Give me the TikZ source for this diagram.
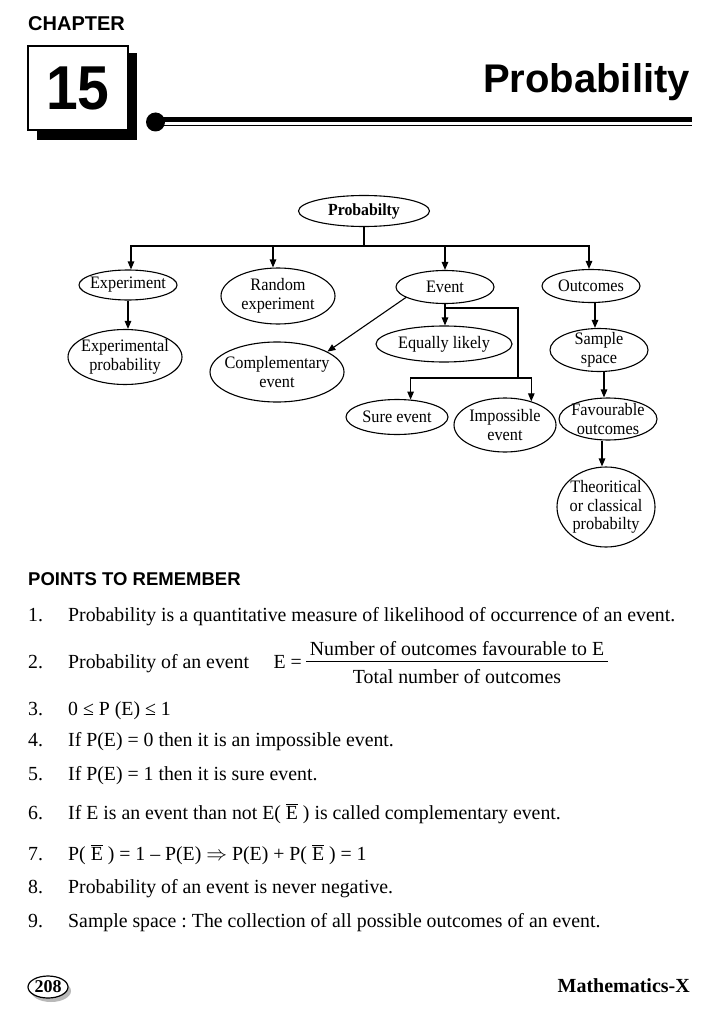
\documentclass[tikz,border=0pt]{standalone}
\usepackage{fontspec}
\setmainfont{Liberation Serif}
\newfontfamily\bodyff[FakeStretch=0.99]{Liberation Serif}
\newfontfamily\diagff[FakeStretch=0.93]{Liberation Serif}
\newfontfamily\headff{Liberation Sans}
\newfontfamily\numff[FakeStretch=0.92]{Liberation Sans}
\usetikzlibrary{shapes.geometric,arrows.meta}
\frenchspacing
\newcommand\bodyfont{\fontsize{20}{24}\selectfont\bodyff}
\newcommand\diagfont{\fontsize{17.5}{18.5}\selectfont\diagff}
\newcommand\Ebar{$\overline{\hbox{E}}$}
\tikzset{
  ell/.style={draw, ellipse, line width=1.1pt, inner sep=-40pt, align=center, font=\diagfont},
  conn/.style={line width=1.1pt},
  arr/.style={line width=1.1pt, -{Triangle[length=8pt,width=6.5pt]}},
  txt/.style={anchor=base west, inner sep=0pt, font=\bodyfont},
}
\begin{document}
\begin{tikzpicture}[x=1pt,y=-1pt]
\path[use as bounding box, fill=white] (0,0) rectangle (716,1024);
% ---------- header ----------
\node[anchor=base west, inner sep=0pt, font={\fontsize{20}{20}\selectfont\headff\bfseries}] (chap) at (28,31) {CHAPTER};
\fill[black] (37,53) rectangle (137,140);
\node[draw, fill=white, line width=1.5pt, minimum width=100pt, minimum height=84pt, inner sep=0pt,
      font={\fontsize{62}{62}\selectfont\numff\bfseries}] (chapnum) at (78,88) {15};
\node[anchor=base east, inner sep=0pt, font={\fontsize{40}{40}\selectfont\headff\bfseries}] (title) at (690,93) {Probability};
\fill[black] (155.5,122) circle (9.5);
\draw[line width=4.5pt] (158,119.5) -- (692,119.5);
\draw[line width=1.2pt] (158,125.8) -- (692,125.8);
% ---------- diagram ----------
\node[ell, font={\fontsize{17}{18}\selectfont\diagff\bfseries}, minimum width=131pt, minimum height=31pt] (P) at (364,211) {Probabilty};
\node[ell, minimum width=98pt, minimum height=30pt] (Exp) at (128,285) {Experiment};
\node[ell, minimum width=114pt, minimum height=56pt] (Rand) at (278,296) {Random\\experiment};
\node[ell, minimum width=98pt, minimum height=33pt] (Event) at (445,287) {Event};
\node[ell, minimum width=98pt, minimum height=33pt] (Out) at (591,286) {Outcomes};
\node[ell, minimum width=114pt, minimum height=55pt] (ExpProb) at (125,357) {Experimental\\probability};
\node[ell, minimum width=134pt, minimum height=60pt] (Comp) at (277,372) {Complementary\\event};
\node[ell, minimum width=136pt, minimum height=36pt] (Eq) at (444,344) {Equally likely};
\node[ell, minimum width=102pt, minimum height=35pt] (Sure) at (397,417) {Sure event};
\node[ell, minimum width=102pt, minimum height=54pt] (Imp) at (505,425) {Impossible\\event};
\node[ell, minimum width=98pt, minimum height=43pt] (Sample) at (599,350) {Sample\\space};
\node[ell, minimum width=98pt, minimum height=42pt] (Fav) at (608,419) {Favourable\\outcomes};
\node[ell, minimum width=98pt, minimum height=80pt] (Theo) at (606,507) {Theoritical\\or classical\\probabilty};
\coordinate (bus) at (364,246);
\draw[conn] (P.south) -- (bus);
\draw[arr] (bus) -| ([xshift=3pt]Exp.north);
\draw[arr] (bus) -| ([xshift=-5pt]Rand.north);
\draw[arr] (bus) -| (Event.north);
\draw[arr] (bus) -| ([xshift=-2pt]Out.north);
\draw[arr] (Exp.south) -- (Exp.south |- ExpProb.north);
\draw[arr] (Event.195) -- (Comp.22);
\coordinate (ej) at (445,308);
\coordinate (ek) at (518,378);
\draw[conn] (Event.south) -- (ej) -| (ek);
\draw[arr] (ej) -- (ej |- Eq.north);
\draw[arr] (ek) -| (Sure.52);
\draw[arr] (ek) -| (Imp.42);
\draw[arr] ([xshift=4pt]Out.south) -- ([xshift=4pt]Out.south |- Sample.north);
\draw[arr] ([xshift=5pt]Sample.south) -- ([xshift=5pt]Sample.south |- Fav.north);
\draw[arr] ([xshift=-6pt]Fav.south) -- ([xshift=-6pt]Fav.south |- Theo.north);
% ---------- points ----------
\node[anchor=base west, inner sep=0pt, font={\fontsize{18.5}{20}\selectfont\headff\bfseries}] (ptr) at (28,585) {POINTS TO REMEMBER};
\node[txt] (n1) at (28,621) {1.};
\node[txt] (t1) at (68,621) {Probability is a quantitative measure of likelihood of occurrence of an event.};
\node[txt] (n2) at (28,668) {2.};
\node[txt] (t2) at (68,668) {Probability of an event};
\node[txt, anchor=base east] (eqE) at (302,668) {E =};
\node[anchor=base, inner sep=0pt, font=\bodyfont] (num) at (457,655) {Number of outcomes favourable to E};
\node[anchor=base, inner sep=0pt, font=\bodyfont] (den) at (457,683) {Total number of outcomes};
\draw[line width=1pt] (306,661) -- (608,661);
\node[txt] (n3) at (28,715) {3.};
\node[txt] (t3) at (68,715) {0 ≤ P (E) ≤ 1};
\node[txt] (n4) at (28,746) {4.};
\node[txt] (t4) at (68,746) {If P(E) = 0 then it is an impossible event.};
\node[txt] (n5) at (28,780) {5.};
\node[txt] (t5) at (68,780) {If P(E) = 1 then it is sure event.};
\node[txt] (n6) at (28,819) {6.};
\node[txt] (t6) at (68,819) {If E is an event than not E( \Ebar{} ) is called complementary event.};
\node[txt] (n7) at (28,860) {7.};
\node[txt] (t7) at (68,860) {P( \Ebar{} ) = 1 – P(E) $\Rightarrow$ P(E) + P( \Ebar{} ) = 1};
\node[txt] (n8) at (28,893) {8.};
\node[txt] (t8) at (68,893) {Probability of an event is never negative.};
\node[txt] (n9) at (28,927) {9.};
\node[txt] (t9) at (68,927) {Sample space : The collection of all possible outcomes of an event.};
% ---------- footer ----------
\fill[gray!55] (51,991) ellipse (20 and 11);
\node[draw, ellipse, fill=white, line width=1.2pt, minimum width=40pt, minimum height=22pt, inner sep=-20pt,
      font={\fontsize{18}{18}\selectfont\bfseries}] (page) at (48,987) {208};
\node[anchor=base east, inner sep=0pt, font={\fontsize{20}{20}\selectfont\bfseries}] (subj) at (690,992) {Mathematics-X};
\end{tikzpicture}
\end{document}
